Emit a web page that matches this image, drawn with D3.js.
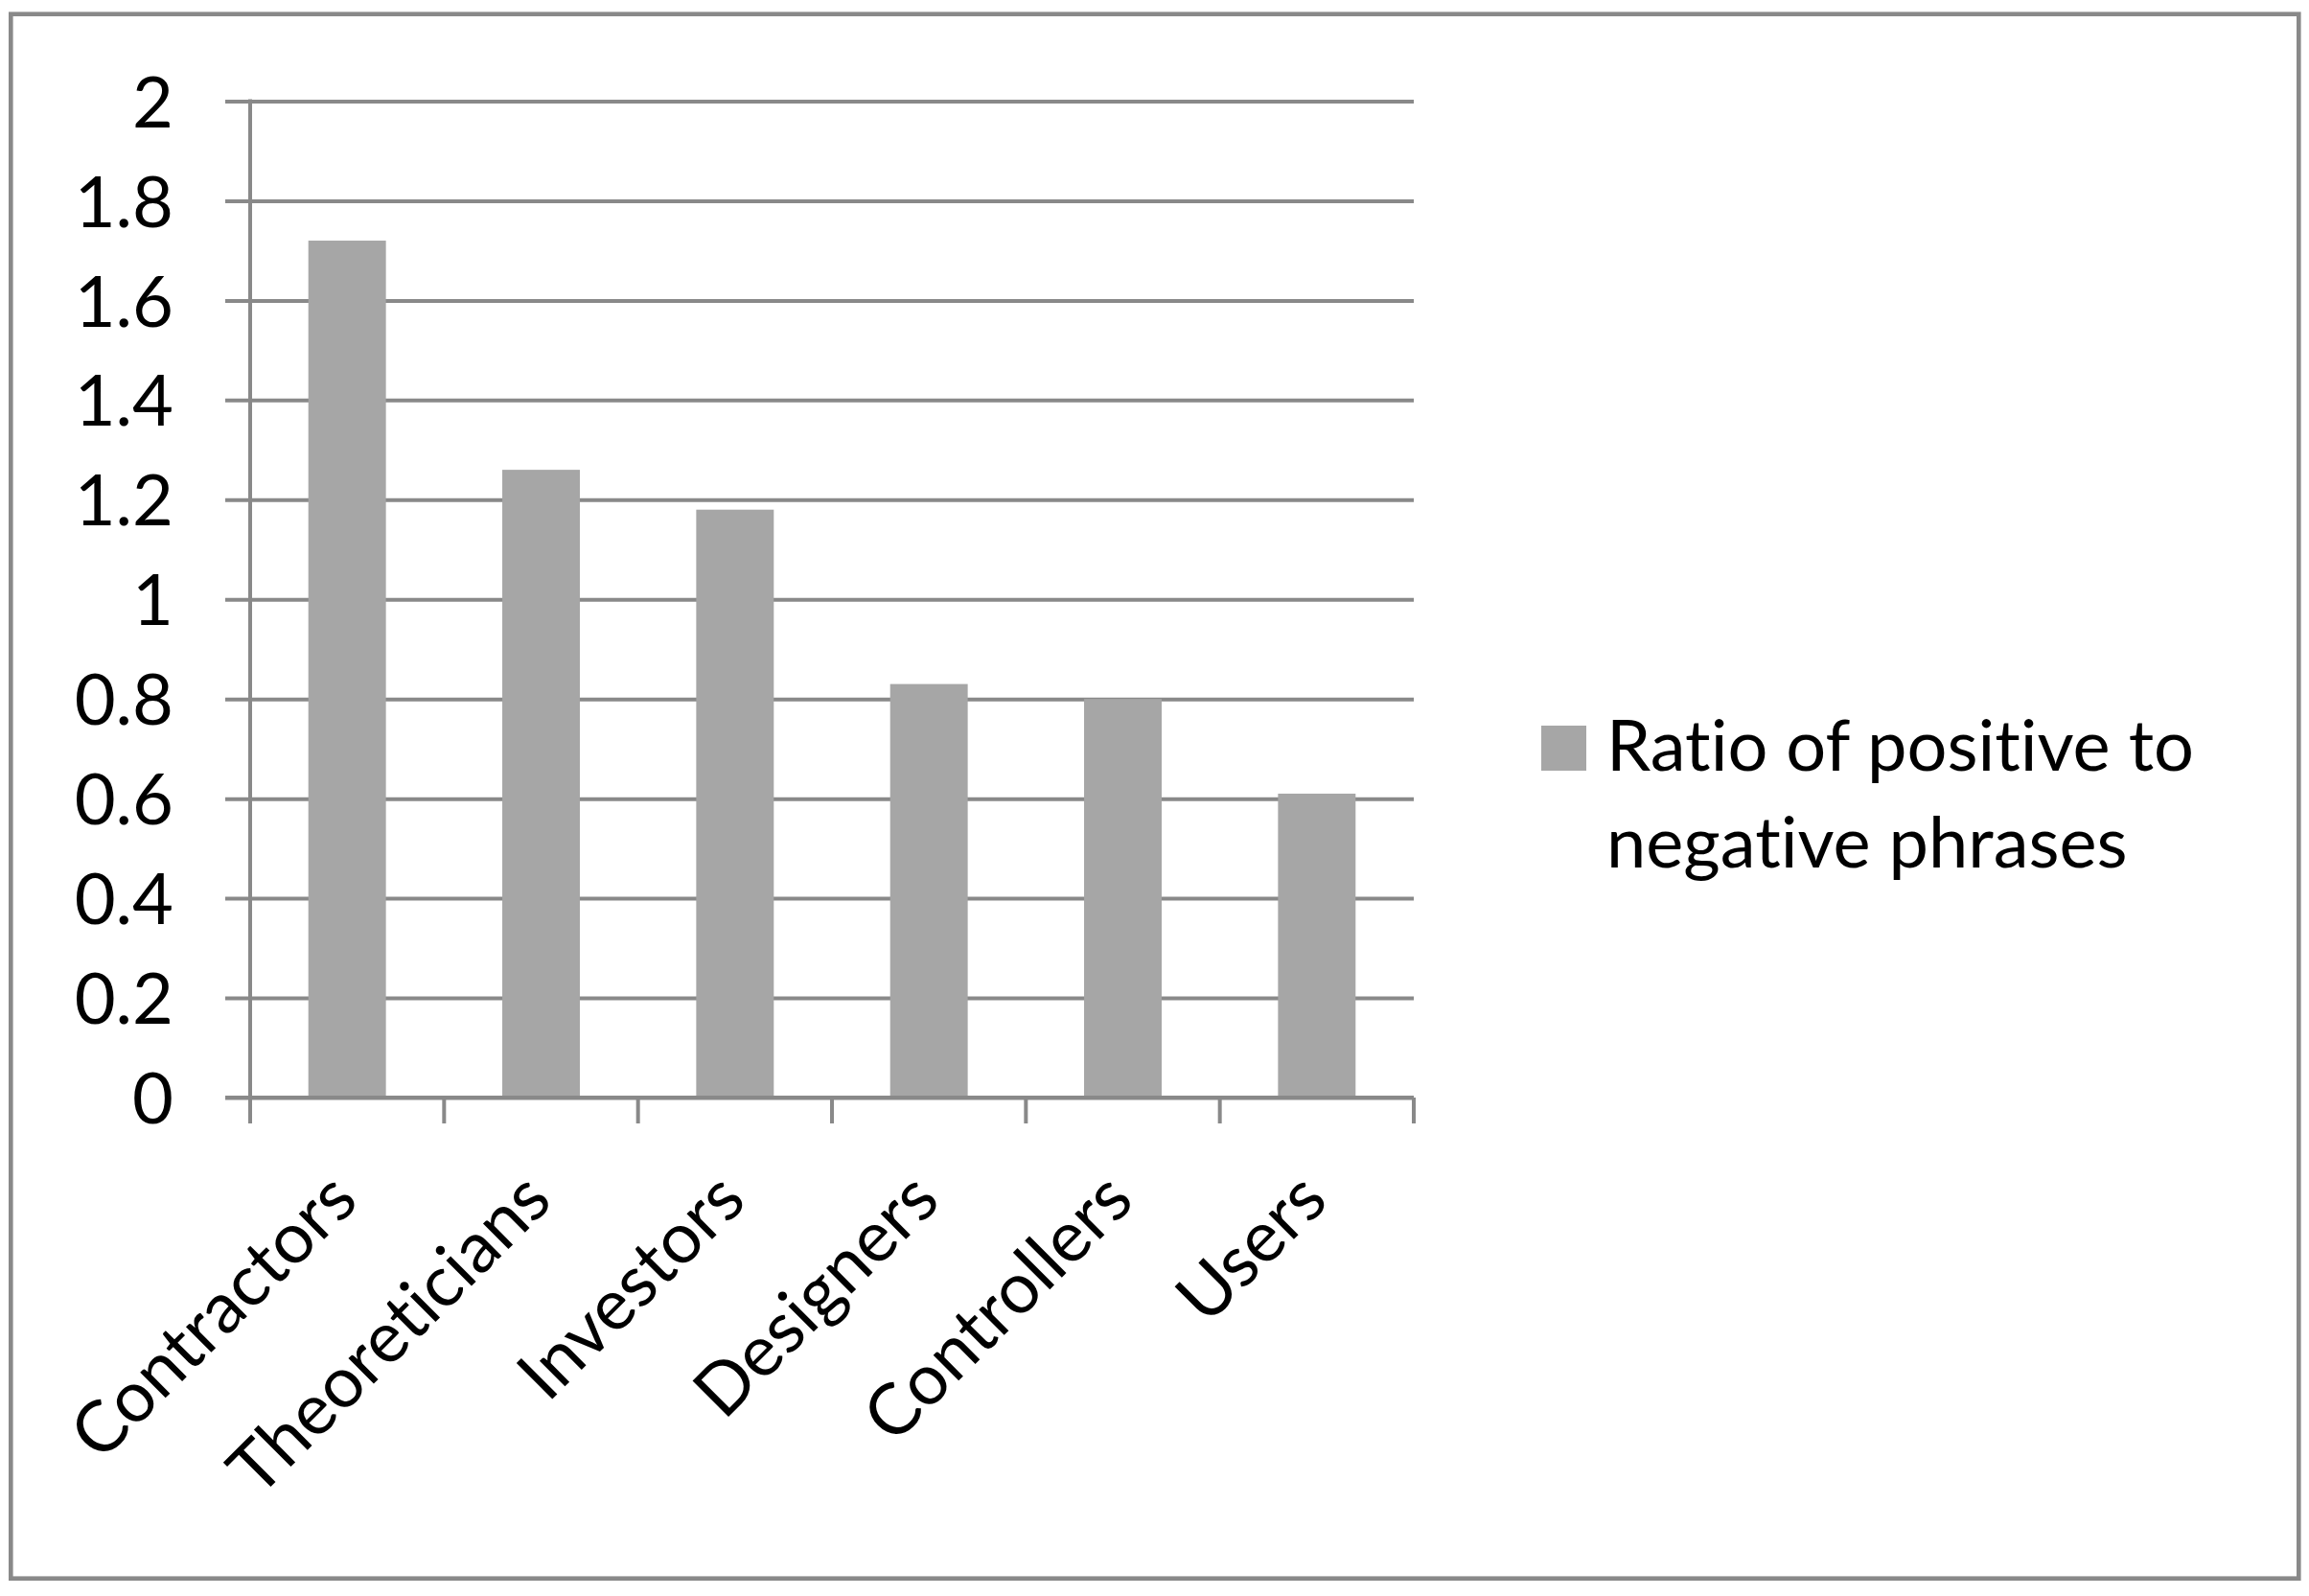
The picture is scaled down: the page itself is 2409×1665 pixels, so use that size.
<!DOCTYPE html>
<html>
<head>
<meta charset="utf-8">
<script src="https://cdn.jsdelivr.net/npm/d3@7"></script>
<style>
  html, body { margin: 0; padding: 0; background: #ffffff; }
  svg { display: block; }
  text { font-variant-ligatures: none; font-feature-settings: "liga" 0, "clig" 0; }
</style>
</head>
<body>
<script>
// ---- data ----
const categories = ["Contractors", "Theoreticians", "Investors", "Designers", "Controllers", "Users"];
const ratioValues = [1.72, 1.26, 1.18, 0.83, 0.80, 0.61];
const yTickValues = [0, 0.2, 0.4, 0.6, 0.8, 1, 1.2, 1.4, 1.6, 1.8, 2];
const yTickLabels = ["0", "0.2", "0.4", "0.6", "0.8", "1", "1.2", "1.4", "1.6", "1.8", "2"];
const seriesName = ["Ratio of positive to", "negative phrases"];

// ---- layout ----
const W = 2409, H = 1665;
const plotLeft = 261, plotRight = 1475, plotTop = 105.5, plotBottom = 1145;
const lineColor = "#898989";
const barColor = "#a6a6a6";
const fontFamily = "Lato, 'Open Sans', sans-serif";
const fontSize = 74;

const svg = d3.select("body").append("svg")
  .attr("width", W).attr("height", H);

svg.append("rect").attr("width", W).attr("height", H).attr("fill", "#fff");

// outer frame
svg.append("rect")
  .attr("x", 11.3).attr("y", 14.7)
  .attr("width", 2387).attr("height", 1632)
  .attr("fill", "none").attr("stroke", lineColor).attr("stroke-width", 4.6);

const x = d3.scaleBand().domain(categories).range([plotLeft, plotRight])
  .paddingInner(0.6).paddingOuter(0.3);
const y = d3.scaleLinear().domain([0, 2]).range([plotBottom, plotTop]);

// gridlines + y tick labels
const gridLeft = 235;
const yAxis = d3.axisLeft(y)
  .tickValues(yTickValues)
  .tickFormat((d, i) => yTickLabels[i])
  .tickSize(plotRight - gridLeft)
  .tickPadding(54);
const gy = svg.append("g")
  .attr("transform", `translate(${plotRight},0)`)
  .call(yAxis);
gy.select(".domain").remove();
gy.selectAll(".tick line").attr("stroke", lineColor).attr("stroke-width", 4);
gy.selectAll(".tick text")
  .attr("fill", "#000")
  .attr("font-family", fontFamily)
  .attr("font-size", fontSize)
  .attr("dy", "0.36em");

// bars
svg.append("g").selectAll("rect")
  .data(categories)
  .join("rect")
  .attr("x", d => x(d))
  .attr("width", x.bandwidth())
  .attr("y", (d, i) => y(ratioValues[i]))
  .attr("height", (d, i) => y(0) - y(ratioValues[i]))
  .attr("fill", barColor);

// x axis line (redraw over bars)
svg.append("line")
  .attr("x1", gridLeft).attr("x2", plotRight)
  .attr("y1", y(0)).attr("y2", y(0))
  .attr("stroke", lineColor).attr("stroke-width", 4);

// y axis line
svg.append("line")
  .attr("x1", plotLeft).attr("x2", plotLeft)
  .attr("y1", y(2) - 2).attr("y2", y(0) + 27)
  .attr("stroke", lineColor).attr("stroke-width", 4);

// category boundary ticks
const gap = (x.step() - x.bandwidth()) / 2;
const boundaries = categories.map(c => x(c) - gap).concat([x(categories[categories.length - 1]) + x.bandwidth() + gap]);
svg.append("g").selectAll("line")
  .data(boundaries)
  .join("line")
  .attr("x1", d => d).attr("x2", d => d)
  .attr("y1", y(0)).attr("y2", y(0) + 27)
  .attr("stroke", lineColor).attr("stroke-width", 4);

// category labels, rotated -45
svg.append("g").selectAll("text")
  .data(categories)
  .join("text")
  .attr("transform", d => `translate(${x(d) + x.bandwidth() / 2 + 14},${y(0) + 110}) rotate(-45)`)
  .attr("text-anchor", "end")
  .attr("font-family", fontFamily)
  .attr("font-size", fontSize)
  .attr("fill", "#000")
  .text(d => d);

// legend
const legend = svg.append("g");
legend.append("rect")
  .attr("x", 1608).attr("y", 757).attr("width", 47).attr("height", 47)
  .attr("fill", barColor);
legend.append("text")
  .attr("font-family", fontFamily)
  .attr("font-size", fontSize)
  .attr("fill", "#000")
  .selectAll("tspan")
  .data(seriesName)
  .join("tspan")
  .attr("x", 1676)
  .attr("y", (d, i) => 804 + i * 101)
  .text(d => d);
</script>
</body>
</html>
